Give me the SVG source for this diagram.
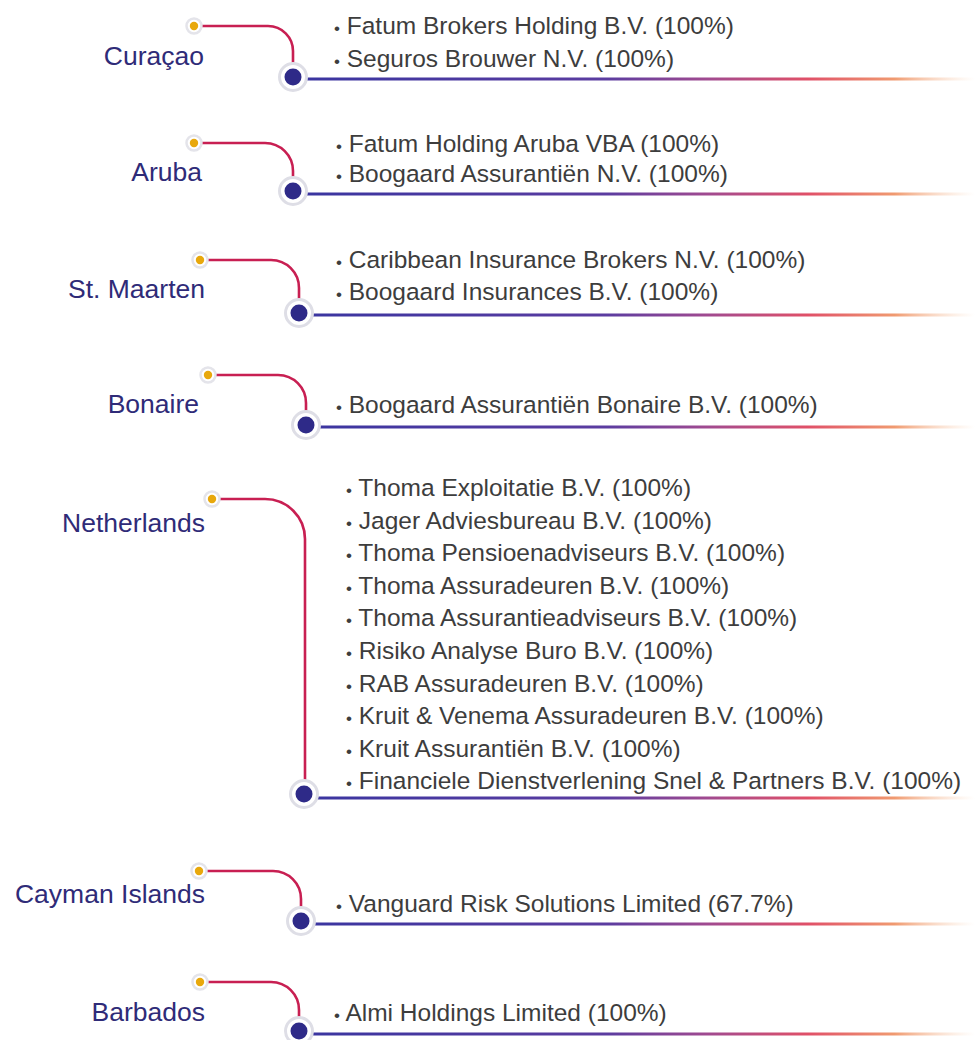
<svg xmlns="http://www.w3.org/2000/svg" width="977" height="1040" viewBox="0 0 977 1040">
<style>
.lbl{font-family:"Liberation Sans",Arial,sans-serif;font-size:26.5px;fill:#2f2b78;text-anchor:end}
.it{font-family:"Liberation Sans",Arial,sans-serif;font-size:24.5px;fill:#3d3d3d}
.bu{font-size:17px}
.red{fill:none;stroke:#c81f52;stroke-width:2.6}
.bl{fill:none;stroke:url(#g);stroke-width:3}
.yh{fill:#fff;stroke:#e4e4ea;stroke-width:2.5}
.yd{fill:#e8a80c}
.bh{fill:#fff;stroke:#dedee6;stroke-width:3}
.bd{fill:#2e2a88}
</style>
<defs>
<linearGradient id="g" gradientUnits="userSpaceOnUse" x1="305" y1="0" x2="975" y2="0">
<stop offset="0" stop-color="#3a35a0"/>
<stop offset="0.45" stop-color="#5b3ca0"/>
<stop offset="0.6" stop-color="#a04a90"/>
<stop offset="0.75" stop-color="#e05068"/>
<stop offset="0.88" stop-color="#f09a70"/>
<stop offset="1" stop-color="#f8d0b0" stop-opacity="0"/>
</linearGradient>
</defs>
<rect width="977" height="1040" fill="#fff"/>
<g id="connectors">
<path class="red" d="M199 26 H268 A25 25 0 0 1 293 51 V77"/>
<path class="bl" d="M305 79 H975"/>
<path class="red" d="M199 143 H265 A28 28 0 0 1 293 171 V191"/>
<path class="bl" d="M305 194 H975"/>
<path class="red" d="M205 260 H271 A28 28 0 0 1 299 288 V313"/>
<path class="bl" d="M311 315 H975"/>
<path class="red" d="M213 375 H278 A28 28 0 0 1 306 403 V425"/>
<path class="bl" d="M318 427 H975"/>
<path class="red" d="M217 499 H265 A40 40 0 0 1 305 539 V794"/>
<path class="bl" d="M316 798 H975"/>
<path class="red" d="M204 871 H273 A28 28 0 0 1 301 899 V921"/>
<path class="bl" d="M313 924 H975"/>
<path class="red" d="M205 982 H271 A28 28 0 0 1 299 1010 V1031"/>
<path class="bl" d="M311 1034 H975"/>
</g>
<g id="curacao">
<text class="lbl" x="204" y="65">Curaçao</text>
<circle class="yh" cx="194" cy="26" r="7.5"/><circle class="yd" cx="194" cy="26" r="4.2"/>
<circle class="bh" cx="293" cy="77" r="13.5"/><circle class="bd" cx="293" cy="77" r="8.5"/>
<text class="it" x="334" y="34"><tspan class="bu">•</tspan> Fatum Brokers Holding B.V. (100%)</text>
<text class="it" x="334" y="67"><tspan class="bu">•</tspan> Seguros Brouwer N.V. (100%)</text>
</g>
<g id="aruba">
<text class="lbl" x="202" y="181">Aruba</text>
<circle class="yh" cx="194" cy="143" r="7.5"/><circle class="yd" cx="194" cy="143" r="4.2"/>
<circle class="bh" cx="293" cy="191" r="13.5"/><circle class="bd" cx="293" cy="191" r="8.5"/>
<text class="it" x="336" y="152"><tspan class="bu">•</tspan> Fatum Holding Aruba VBA (100%)</text>
<text class="it" x="336" y="182"><tspan class="bu">•</tspan> Boogaard Assurantiën N.V. (100%)</text>
</g>
<g id="st-maarten">
<text class="lbl" x="205" y="298">St. Maarten</text>
<circle class="yh" cx="200" cy="260" r="7.5"/><circle class="yd" cx="200" cy="260" r="4.2"/>
<circle class="bh" cx="299" cy="313" r="13.5"/><circle class="bd" cx="299" cy="313" r="8.5"/>
<text class="it" x="336" y="268"><tspan class="bu">•</tspan> Caribbean Insurance Brokers N.V. (100%)</text>
<text class="it" x="336" y="300"><tspan class="bu">•</tspan> Boogaard Insurances B.V. (100%)</text>
</g>
<g id="bonaire">
<text class="lbl" x="199" y="413">Bonaire</text>
<circle class="yh" cx="208" cy="375" r="7.5"/><circle class="yd" cx="208" cy="375" r="4.2"/>
<circle class="bh" cx="306" cy="425" r="13.5"/><circle class="bd" cx="306" cy="425" r="8.5"/>
<text class="it" x="336" y="413"><tspan class="bu">•</tspan> Boogaard Assurantiën Bonaire B.V. (100%)</text>
</g>
<g id="netherlands">
<text class="lbl" x="205" y="532">Netherlands</text>
<circle class="yh" cx="212" cy="499" r="7.5"/><circle class="yd" cx="212" cy="499" r="4.2"/>
<circle class="bh" cx="304" cy="794" r="13.5"/><circle class="bd" cx="304" cy="794" r="8.5"/>
<text class="it" x="346" y="496"><tspan class="bu">•</tspan> Thoma Exploitatie B.V. (100%)</text>
<text class="it" x="346" y="528.6"><tspan class="bu">•</tspan> Jager Adviesbureau B.V. (100%)</text>
<text class="it" x="346" y="561.2"><tspan class="bu">•</tspan> Thoma Pensioenadviseurs B.V. (100%)</text>
<text class="it" x="346" y="593.8"><tspan class="bu">•</tspan> Thoma Assuradeuren B.V. (100%)</text>
<text class="it" x="346" y="626.4"><tspan class="bu">•</tspan> Thoma Assurantieadviseurs B.V. (100%)</text>
<text class="it" x="346" y="659"><tspan class="bu">•</tspan> Risiko Analyse Buro B.V. (100%)</text>
<text class="it" x="346" y="691.6"><tspan class="bu">•</tspan> RAB Assuradeuren B.V. (100%)</text>
<text class="it" x="346" y="724.2"><tspan class="bu">•</tspan> Kruit &amp; Venema Assuradeuren B.V. (100%)</text>
<text class="it" x="346" y="756.8"><tspan class="bu">•</tspan> Kruit Assurantiën B.V. (100%)</text>
<text class="it" x="346" y="789.4"><tspan class="bu">•</tspan> Financiele Dienstverlening Snel &amp; Partners B.V. (100%)</text>
</g>
<g id="cayman">
<text class="lbl" x="205" y="903">Cayman Islands</text>
<circle class="yh" cx="199" cy="871" r="7.5"/><circle class="yd" cx="199" cy="871" r="4.2"/>
<circle class="bh" cx="301" cy="921" r="13.5"/><circle class="bd" cx="301" cy="921" r="8.5"/>
<text class="it" x="336" y="912"><tspan class="bu">•</tspan> Vanguard Risk Solutions Limited (67.7%)</text>
</g>
<g id="barbados">
<text class="lbl" x="205" y="1021">Barbados</text>
<circle class="yh" cx="200" cy="982" r="7.5"/><circle class="yd" cx="200" cy="982" r="4.2"/>
<circle class="bh" cx="299" cy="1031" r="13.5"/><circle class="bd" cx="299" cy="1031" r="8.5"/>
<text class="it" x="334" y="1021"><tspan class="bu">•</tspan> Almi Holdings Limited (100%)</text>
</g>
</svg>
